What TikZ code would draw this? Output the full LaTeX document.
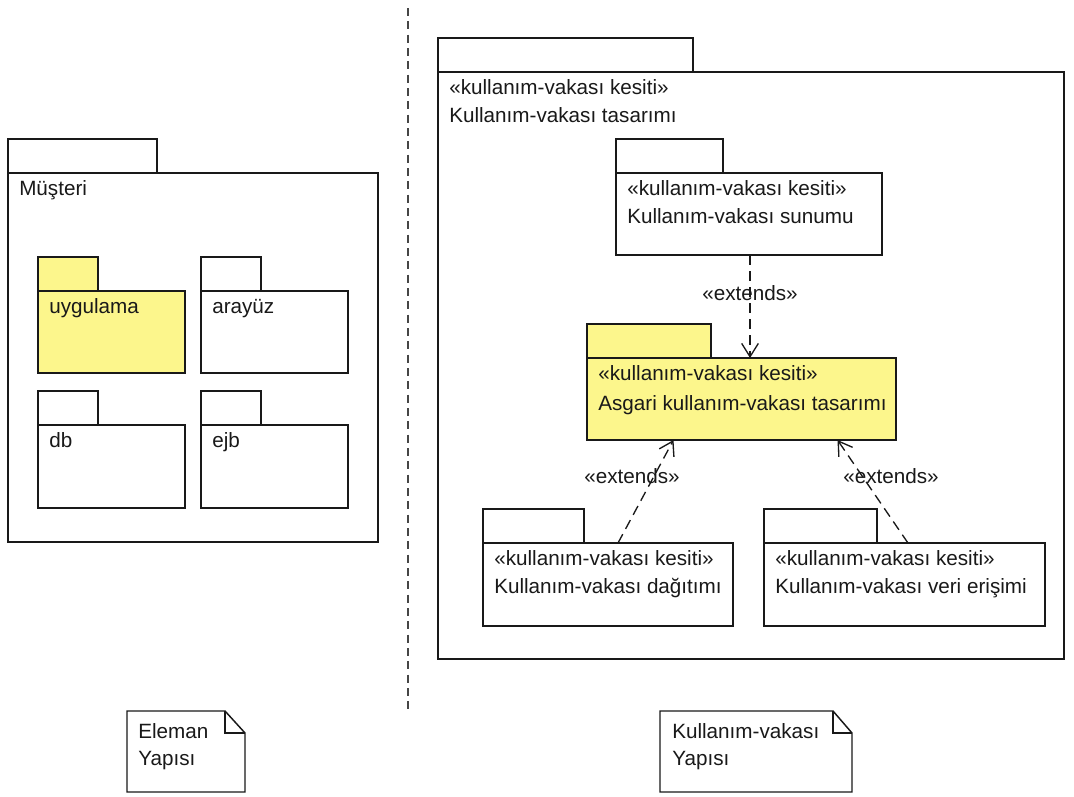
\documentclass[tikz,border=0pt]{standalone}
\usepackage{fontspec}
\setmainfont{Liberation Sans}
\usetikzlibrary{arrows.meta}

\definecolor{pkgyellow}{RGB}{252,246,140}
\definecolor{inkc}{RGB}{25,25,25}
\definecolor{divgrey}{RGB}{70,70,70}

% UML package: tab + body.  #1 name, #2 x, #3 y (top of tab),
% #4 tab width, #5 tab height, #6 body width, #7 body height, #8 fill (in px)
\newcommand\umlpkg[8]{%
  \node[pkgpart, fill=#8, minimum width=#4*0.75pt, minimum height=#5*0.75pt] (#1-tab) at (#2,#3) {};
  \node[pkgpart, fill=#8, minimum width=#6*0.75pt, minimum height=#7*0.75pt] (#1) at (#1-tab.south west) {};
}
% one text line inside a package body; #1 node name, #2 package, #3 line offset (pt), #4 text
\newcommand\pkgline[4]{%
  \node[pkgtxt] (#1) at ([xshift=8.25pt, yshift=-16.5pt-#3]#2.north west) {#4};
}

\begin{document}
\begin{tikzpicture}[x=0.75pt, y=-0.75pt,
  pkgpart/.style={draw=inkc, line width=1.1pt, anchor=north west, inner sep=0pt, outer sep=0pt},
  pkgtxt/.style={anchor=base west, inner sep=0pt, font=\fontsize{15.5pt}{18pt}\selectfont, text=inkc},
  lbl/.style={anchor=base, inner sep=0pt, font=\fontsize{15.5pt}{18pt}\selectfont, text=inkc},
  notebox/.style={draw=inkc, line width=1.1pt, fill=white, line join=miter},
  ext/.style={draw=inkc, line width=1pt, dash pattern=on 7.5pt off 4.5pt,
    -{Straight Barb[length=10pt, width=12.5pt, line width=1pt]}},
  divider/.style={draw=divgrey, line width=1.3pt, dash pattern=on 6pt off 4pt}]

\fill[white] (0,0) rectangle (1074,796);
\useasboundingbox (0,0) rectangle (1074,796);

% ---------- left: element structure ----------
\umlpkg{musteri}{8}{139}{149}{34}{370}{369}{white}
\pkgline{musteri-l1}{musteri}{0pt}{Müşteri}

\umlpkg{uyg}{38}{257}{60}{34}{147}{82}{pkgyellow}
\pkgline{uyg-l1}{uyg}{0pt}{uygulama}
\umlpkg{arayuz}{201}{257}{60}{34}{147}{82}{white}
\pkgline{arayuz-l1}{arayuz}{0pt}{arayüz}
\umlpkg{db}{38}{391}{60}{34}{147}{83}{white}
\pkgline{db-l1}{db}{0pt}{db}
\umlpkg{ejb}{201}{391}{60}{34}{147}{83}{white}
\pkgline{ejb-l1}{ejb}{0pt}{ejb}

% ---------- separator ----------
\coordinate (div-top) at (408,8);
\coordinate (div-bot) at (408,712);
\draw[divider] (div-top) -- (div-bot);

% ---------- right: use-case structure ----------
\umlpkg{tasarim}{438}{38}{255}{34}{626}{587}{white}
\pkgline{tasarim-l1}{tasarim}{0pt}{«kullanım-vakası kesiti»}
\pkgline{tasarim-l2}{tasarim}{21pt}{Kullanım-vakası tasarımı}

\umlpkg{sunum}{616}{139}{107}{34}{266}{82}{white}
\pkgline{sunum-l1}{sunum}{0pt}{«kullanım-vakası kesiti»}
\pkgline{sunum-l2}{sunum}{21pt}{Kullanım-vakası sunumu}

\umlpkg{asgari}{587}{324}{124}{34}{309}{82}{pkgyellow}
\pkgline{asgari-l1}{asgari}{0pt}{«kullanım-vakası kesiti»}
\pkgline{asgari-l2}{asgari}{22.5pt}{Asgari kullanım-vakası tasarımı}

\umlpkg{dagitim}{483}{509}{101}{34}{250}{83}{white}
\pkgline{dagitim-l1}{dagitim}{0pt}{«kullanım-vakası kesiti»}
\pkgline{dagitim-l2}{dagitim}{21pt}{Kullanım-vakası dağıtımı}

\umlpkg{veri}{764}{509}{113}{34}{281}{83}{white}
\pkgline{veri-l1}{veri}{0pt}{«kullanım-vakası kesiti»}
\pkgline{veri-l2}{veri}{21pt}{Kullanım-vakası veri erişimi}

% extends dependencies
\draw[ext] ([xshift=0.75pt]sunum.south) -- ([xshift=0.75pt]sunum.south |- asgari.north);
\draw[ext] ([xshift=7.5pt]dagitim.north) -- ([xshift=-51pt]asgari.south);
\draw[ext] ([xshift=2.6pt]veri.north) -- ([xshift=72pt]asgari.south);

\node[lbl] (ext-top) at (750,300) {«extends»};
\node[lbl] (ext-left) at (632,483) {«extends»};
\node[lbl] (ext-right) at (891,483) {«extends»};

% ---------- notes ----------
\draw[notebox] (127,711) coordinate (n1-nw) -- (225,711) -- (245,733) -- (245,792) -- (127,792) -- cycle;
\draw[inkc, line width=1.1pt] (225,711) -- (225,733) -- (245,733);
\node[pkgtxt] (n1-l1) at (138,738) {Eleman};
\node[pkgtxt] (n1-l2) at (138,765) {Yapısı};

\draw[notebox] (660,711) coordinate (n2-nw) -- (833,711) -- (852,733) -- (852,792) -- (660,792) -- cycle;
\draw[inkc, line width=1.1pt] (833,711) -- (833,733) -- (852,733);
\node[pkgtxt] (n2-l1) at (672,738) {Kullanım-vakası};
\node[pkgtxt] (n2-l2) at (672,765) {Yapısı};

\end{tikzpicture}
\end{document}
